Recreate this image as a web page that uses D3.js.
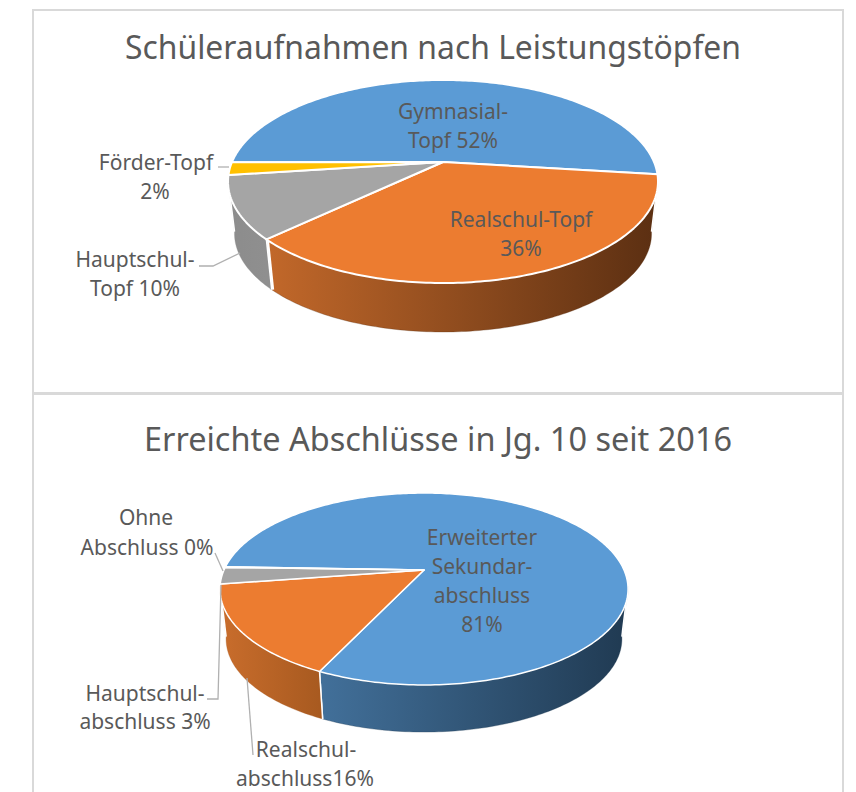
<!DOCTYPE html>
<html><head><meta charset="utf-8">
<script src="https://cdn.jsdelivr.net/npm/d3@7/dist/d3.min.js"></script>
<style>html,body{margin:0;background:#fff}svg{display:block}text{font-family:"Noto Sans",sans-serif;fill:#595959}</style>
</head><body><svg id="c" width="856" height="792"></svg>
<script>
const topCategories = ["Gymnasial-Topf","Realschul-Topf","Hauptschul-Topf","Förder-Topf"];
const topValues = [52,36,10,2];
const topColors = ["#5b9bd5","#ec7c30","#a5a5a5","#ffc000"];
const bottomCategories = ["Erweiterter Sekundarabschluss","Realschulabschluss","Hauptschulabschluss","Ohne Abschluss"];
const bottomValues = [81.5,15.6,2.8,0.1];
const bottomColors = ["#5b9bd5","#ec7c30","#a5a5a5","#ffc000"];

const svg = d3.select("#c");
const defs = svg.append("defs");
const rad = Math.PI/180;

function drawPie(o){
  const k=o.k, b=o.b, a=o.a;
  const fx=d3.scaleLinear().domain([-1,1]).range([o.cx-a,o.cx+a]);
  const fy=d3.scaleLinear().domain([-1,1]).range([o.cy-b,o.cy+b]);
  const rim=t=>{const u=Math.cos(t),v=Math.sin(t),w=1-k*v;return [fx(u/w),fy(v/w)];};
  const low=t=>{const p=rim(t);return [o.cx+(p[0]-o.cx)*o.s, o.lowCy+(p[1]-o.midY)*o.s];};
  const line=d3.line();
  const arcs=d3.pie().sort(null).startAngle(o.start*rad).endAngle((o.start+360)*rad)(o.values);
  const theta=d=>[d.startAngle-Math.PI/2,d.endAngle-Math.PI/2];
  const samples=(t0,t1)=>{const n=Math.max(2,Math.ceil(Math.abs(t1-t0)/(1*rad)));return d3.range(n+1).map(i=>t0+(t1-t0)*i/n);};
  const g=svg.append("g");
  // side walls (front half only)
  arcs.forEach((d,i)=>{
    let [t0,t1]=theta(d);
    const lo=10*rad, hi=170*rad;
    [0,-2*Math.PI].forEach(sh=>{
      const s0=Math.max(t0+sh,lo), s1=Math.min(t1+sh,hi);
      if(s1<=s0) return;
      const c=o.side[i]; if(!c) return;
      const id=o.id+"g"+i;
      const gr=defs.append("linearGradient").attr("id",id).attr("gradientUnits","userSpaceOnUse")
        .attr("x1",rim(s1)[0]).attr("x2",rim(s0)[0]).attr("y1",0).attr("y2",0);
      gr.append("stop").attr("offset",0).attr("stop-color",c[0]);
      gr.append("stop").attr("offset",1).attr("stop-color",c[1]);
      const ts=samples(s0,s1);
      const pts=ts.map(rim).concat(ts.slice().reverse().map(low));
      g.append("path").attr("d",line(pts)+"Z").attr("fill",`url(#${id})`).attr("stroke",c[1]).attr("stroke-width",0.3);
      g.append("path").attr("d",line([rim(s0),low(s0)])).attr("stroke","#fff").attr("stroke-width",1.5);
      g.append("path").attr("d",line([rim(s1),low(s1)])).attr("stroke","#fff").attr("stroke-width",o.cut===i?5:1.5);
      if(o.cut===i){
        const m=rim(s1), n=low(s1);
        g.append("path").attr("d",line([[m[0]-1,m[1]],[n[0]-1,n[1]]])).attr("stroke","#cfcfcf").attr("stroke-width",1.5);
      }
    });
  });
  // top faces
  arcs.forEach((d,i)=>{
    const [t0,t1]=theta(d);
    const pts=[[o.cx,o.cy]].concat(samples(t0,t1).map(rim));
    g.append("path").attr("d",line(pts)+"Z").attr("fill",o.colors[i]).attr("stroke","#fff").attr("stroke-width",o.sw).attr("stroke-linejoin","round");
  });
}

// frames
[[33,10,810,383],[33,394,810,420]].forEach(r=>svg.append("rect").attr("x",r[0]).attr("y",r[1]).attr("width",r[2]).attr("height",r[3]).attr("fill","none").attr("stroke","#d9d9d9").attr("stroke-width",2));

drawPie({id:"a",cx:443,cy:162,a:211,b:97.8,k:0.192,s:0.97,midY:181.5,lowCy:233.5,start:-90.2,values:topValues,colors:topColors,sw:2,cut:1,
  side:[null,["#c2682a","#5b2f12"],["#8c8c8c","#8f8f8f"],null]});
drawPie({id:"b",cx:424,cy:570,a:200,b:92.2,k:0.198,s:0.97,midY:589,lowCy:639,start:-88,values:bottomValues,colors:bottomColors,sw:1.5,
  side:[["#42709a","#203a52"],["#c96d2c","#a85a20"],null,null]});

// leader lines
const ll=d3.line();
[[[218,167],[229,167]],
 [[199,266],[213,266],[240,253]],
 [[215,553],[223,571]],
 [[207,699],[218,699],[221,585]],
 [[253,755],[247,678]]].forEach(p=>svg.append("path").attr("d",ll(p)).attr("fill","none").attr("stroke","#b0b0b0").attr("stroke-width",1.3));

// text
const T=(s,x,y,fs,anchor="middle",len)=>{const t=svg.append("text").attr("x",x).attr("y",y).attr("font-size",fs).attr("text-anchor",anchor).text(s);if(len)t.attr("textLength",len).attr("lengthAdjust","spacingAndGlyphs");};
T("Schüleraufnahmen nach Leistungstöpfen",433,59,32,"middle",616);
T("Erreichte Abschlüsse in Jg. 10 seit 2016",438,451,32,"middle",588);
[["Gymnasial-",453,119],["Topf 52%",453,148],["Realschul-Topf",521,227],["36%",521,256],
 ["Förder-Topf",156,170],["2%",155,199],["Hauptschul-",135,267],["Topf 10%",135,296],
 ["Erweiterter",482,545],["Sekundar-",482,574],["abschluss",482,603],["81%",482,632],
 ["Ohne",146,525],["Abschluss 0%",147,555],["Hauptschul-",145,701],["abschluss 3%",145,729],
 ["Realschul-",306,757],["abschluss16%",305,786]].forEach(r=>T(r[0],r[1],r[2],21));
</script></body></html>
